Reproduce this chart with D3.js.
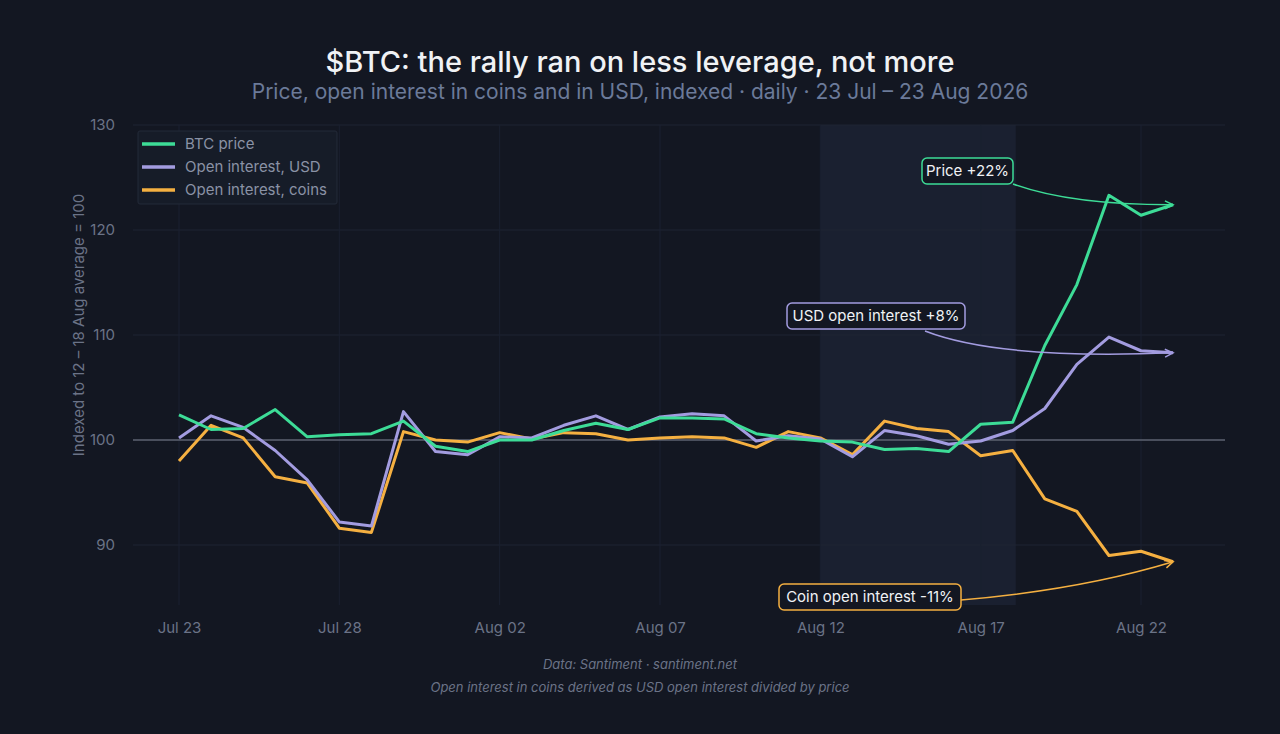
<!DOCTYPE html>
<html><head><meta charset="utf-8">
<script src="https://cdn.jsdelivr.net/npm/d3@7"></script>
<style>body{margin:0;background:#131722;} text{font-family:Inter,"Noto Sans",sans-serif;}</style>
</head><body><svg id="c" width="1280" height="734"></svg>
<script>
const startDate = "2026-07-23";
const price = [102.4,101.0,101.1,102.9,100.3,100.5,100.6,101.8,99.4,98.9,100.0,100.0,100.9,101.6,101.0,102.1,102.1,102.0,100.6,100.2,99.9,99.8,99.1,99.2,98.9,101.5,101.7,109.0,114.8,123.3,121.4,122.4];
const oiUsd = [100.2,102.3,101.2,99.0,96.2,92.2,91.8,102.7,98.9,98.6,100.3,100.2,101.4,102.3,101.0,102.2,102.5,102.3,99.9,100.4,100.1,98.4,100.9,100.4,99.6,99.9,100.9,103.0,107.2,109.8,108.5,108.3];
const oiCoins = [98.0,101.4,100.2,96.5,95.9,91.6,91.2,100.8,100.0,99.8,100.7,100.1,100.7,100.6,100.0,100.2,100.3,100.2,99.3,100.8,100.2,98.6,101.8,101.1,100.8,98.5,99.0,94.4,93.2,89.0,89.4,88.4];
const yTicks = [90,100,110,120,130];
const xTickLabels = ["Jul 23","Jul 28","Aug 02","Aug 07","Aug 12","Aug 17","Aug 22"];
const seriesNames = ["BTC price","Open interest, USD","Open interest, coins"];
const colors = ["#3ddc97","#a39ce0","#f5b041"];
const annotations = ["Price +22%","USD open interest +8%","Coin open interest -11%"];

const svg = d3.select("#c");
const parse = d3.utcParse("%Y-%m-%d");
const d0 = parse(startDate);
const dates = price.map((_,i)=>d3.utcDay.offset(d0,i));
const x = d3.scaleUtc().domain([d0, d3.utcDay.offset(d0,30)]).range([179,1141]);
const y = d3.scaleLinear().domain([90,130]).range([545,125]);
const L=133,R=1225,T=125,B=605;

svg.append("rect").attr("width",1280).attr("height",734).attr("fill","#131722");
svg.append("rect").attr("x",x(parse("2026-08-12"))).attr("width",x(parse("2026-08-18"))-x(parse("2026-08-12"))+3)
  .attr("y",T).attr("height",B-T).attr("fill","#1a2030");
svg.append("g").selectAll("line").data(yTicks).join("line").attr("x1",L).attr("x2",R)
  .attr("y1",d=>y(d)).attr("y2",d=>y(d)).attr("stroke","#1e2433");
const xt = xTickLabels.map((_,i)=>d3.utcDay.offset(d0,i*5));
svg.append("g").selectAll("line").data(xt).join("line").attr("y1",T).attr("y2",B)
  .attr("x1",d=>x(d)).attr("x2",d=>x(d)).attr("stroke","#1a2030");
svg.append("line").attr("x1",L).attr("x2",R).attr("y1",y(100)).attr("y2",y(100)).attr("stroke","#7c8290").attr("stroke-width",1.2);
const ya = svg.append("g").attr("transform",`translate(${L-15},0)`).call(d3.axisLeft(y).tickValues(yTicks).tickSize(0));
ya.select(".domain").remove();
ya.selectAll("text").attr("fill","#6b7387").attr("font-size",15);
const xa = svg.append("g").attr("transform",`translate(0,${B+14})`).call(d3.axisBottom(x).tickValues(xt).tickSize(0).tickFormat((d,i)=>xTickLabels[i]));
xa.select(".domain").remove();
xa.selectAll("text").attr("fill","#6b7387").attr("font-size",15);
svg.append("text").attr("transform","translate(84,325) rotate(-90)").attr("text-anchor","middle")
  .attr("fill","#6b7387").attr("font-size",15).text("Indexed to 12 – 18 Aug average = 100");
const line = d3.line().x((d,i)=>x(dates[i])).y(d=>y(d));
[oiCoins,oiUsd,price].forEach((s,k)=>{
  svg.append("path").datum(s).attr("d",line).attr("fill","none").attr("stroke",colors[2-k]).attr("stroke-width",3).attr("stroke-linejoin","round");
});
svg.append("text").attr("x",640).attr("y",72).attr("text-anchor","middle").attr("fill","#f0f2f5").attr("font-size",29).attr("font-weight",500).text("$BTC: the rally ran on less leverage, not more");
svg.append("text").attr("x",640).attr("y",99).attr("text-anchor","middle").attr("fill","#6b7a99").attr("font-size",21).text("Price, open interest in coins and in USD, indexed · daily · 23 Jul – 23 Aug 2026");
svg.append("text").attr("x",640).attr("y",669).attr("text-anchor","middle").attr("fill","#6b7387").attr("font-size",13).attr("font-style","italic").text("Data: Santiment · santiment.net");
svg.append("text").attr("x",640).attr("y",692).attr("text-anchor","middle").attr("fill","#6b7387").attr("font-size",13).attr("font-style","italic").text("Open interest in coins derived as USD open interest divided by price");
svg.append("rect").attr("x",138).attr("y",131).attr("width",199).attr("height",73).attr("rx",2).attr("fill","#161c28").attr("stroke","#232a38");
seriesNames.forEach((n,i)=>{
  const yy=144+i*23;
  svg.append("line").attr("x1",142).attr("x2",175).attr("y1",yy).attr("y2",yy).attr("stroke",colors[i]).attr("stroke-width",3.5);
  svg.append("text").attr("x",185).attr("y",yy+5).attr("fill","#8a92a5").attr("font-size",15).text(n);
});
const last = dates.length-1;
const ann = [
  {t:annotations[0],c:colors[0],bx:922,by:158,w:91,from:[1013,184],to:[x(dates[last]),y(price[last])],ctrl:[1070,205]},
  {t:annotations[1],c:colors[1],bx:787,by:303,w:178,from:[925,331],to:[x(dates[last]),y(oiUsd[last])],ctrl:[1000,360]},
  {t:annotations[2],c:colors[2],bx:779,by:584,w:182,from:[961,600],to:[x(dates[last]),y(oiCoins[last])],ctrl:[1080,590]}
];
ann.forEach(a=>{
  svg.append("path").attr("d",`M${a.from[0]},${a.from[1]} Q${a.ctrl[0]},${a.ctrl[1]} ${a.to[0]},${a.to[1]}`)
    .attr("fill","none").attr("stroke",a.c).attr("stroke-width",1.5);
  const ang=Math.atan2(a.to[1]-a.ctrl[1],a.to[0]-a.ctrl[0]);
  const h=9;
  svg.append("path").attr("d",`M${a.to[0]-h*Math.cos(ang-0.45)},${a.to[1]-h*Math.sin(ang-0.45)} L${a.to[0]},${a.to[1]} L${a.to[0]-h*Math.cos(ang+0.45)},${a.to[1]-h*Math.sin(ang+0.45)}`)
    .attr("fill","none").attr("stroke",a.c).attr("stroke-width",1.5);
  svg.append("rect").attr("x",a.bx).attr("y",a.by).attr("width",a.w).attr("height",26).attr("rx",5).attr("fill","#131722").attr("stroke",a.c).attr("stroke-width",1.5);
  svg.append("text").attr("x",a.bx+a.w/2).attr("y",a.by+18).attr("text-anchor","middle").attr("fill","#f0f2f5").attr("font-size",15).text(a.t);
});
</script></body></html>
